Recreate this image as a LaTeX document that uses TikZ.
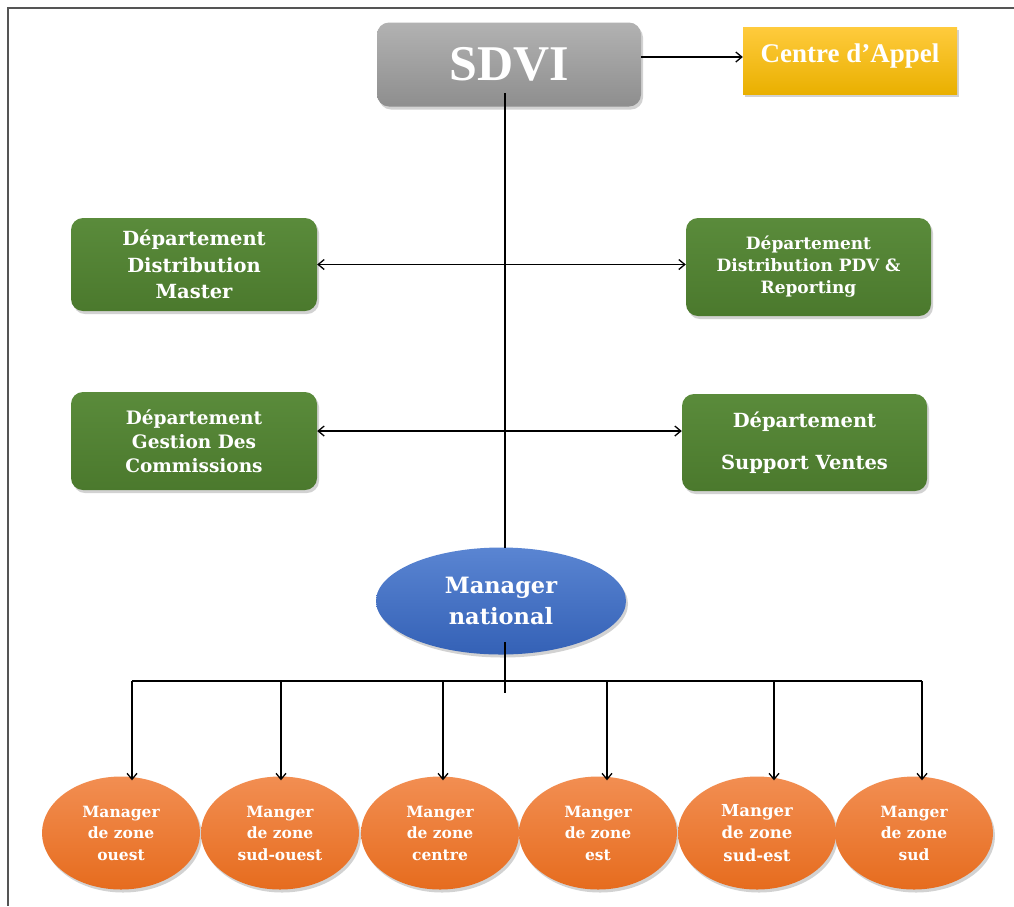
\documentclass[tikz,border=0pt]{standalone}
\usepackage{fontspec}
\setmainfont{DejaVu Serif}
\newfontfamily\headfont{Liberation Serif}
\usetikzlibrary{arrows.meta,shapes.geometric,shadows}

\definecolor{grayTop}{HTML}{B2B2B2}
\definecolor{grayBot}{HTML}{8E8E8E}
\definecolor{yelTop}{HTML}{FFCB3D}
\definecolor{yelBot}{HTML}{E9B000}
\definecolor{grnTop}{HTML}{5A8B3B}
\definecolor{grnBot}{HTML}{4B792D}
\definecolor{bluTop}{HTML}{5A85D2}
\definecolor{bluBot}{HTML}{3461B6}
\definecolor{orgTop}{HTML}{F28E52}
\definecolor{orgBot}{HTML}{E66C1E}
\definecolor{frameCol}{HTML}{555555}

\tikzset{
  shadowed/.style={drop shadow={opacity=0.35,shadow xshift=2pt,shadow yshift=-3pt}},
  graybox/.style={rectangle,rounded corners=12pt,top color=grayTop,bottom color=grayBot,
    shadowed,text=white,font=\headfont\bfseries\fontsize{50}{56}\selectfont,
    minimum width=264pt,minimum height=84pt,inner sep=0pt},
  yellowbox/.style={rectangle,top color=yelTop,bottom color=yelBot,shadowed,text=white,
    font=\headfont\bfseries\fontsize{27}{30}\selectfont,text depth=14pt,
    minimum width=214pt,minimum height=67pt,inner sep=0pt},
  deptbox/.style={rectangle,rounded corners=12pt,top color=grnTop,bottom color=grnBot,
    shadowed,text=white,align=center,inner sep=0pt},
  natnode/.style={ellipse,top color=bluTop,bottom color=bluBot,shadowed,text=white,align=center,
    font=\bfseries\fontsize{22.5}{31}\selectfont,minimum width=250pt,minimum height=107pt,inner sep=0pt},
  zonenode/.style={ellipse,top color=orgTop,bottom color=orgBot,shadowed,text=white,align=center,
    font=\bfseries\fontsize{15.5}{21.5}\selectfont,minimum width=158pt,minimum height=113pt,inner sep=0pt},
  link/.style={line width=1.3pt,draw=black},
  arrowlink/.style={link,-{Straight Barb[length=6pt,width=10pt]}},
  twoway/.style={link,{Straight Barb[length=6pt,width=10pt]}-{Straight Barb[length=6pt,width=10pt]}},
}

\begin{document}
\begin{tikzpicture}[x=1pt,y=-1pt]
\useasboundingbox (0,0) rectangle (1014,906);
\fill[white] (0,0) rectangle (1014,906);
% outer frame
\draw[frameCol,line width=1.3pt] (1014,8) -- (8,8) -- (8,906);

% head and call centre
\node[graybox] (sdvi) at (509,64.5) {SDVI};
\node[yellowbox] (centre) at (850,60.5) {Centre d’Appel};

% departments
\node[deptbox,minimum width=246pt,minimum height=93pt,font=\bfseries\fontsize{19.5}{26.5}\selectfont]
  (ddm) at (194,264.5) {Département\\Distribution\\Master};
\node[deptbox,minimum width=245pt,minimum height=98pt,font=\bfseries\fontsize{17}{22}\selectfont]
  (ddpr) at (808.5,267) {Département\\Distribution PDV \&\\Reporting};
\node[deptbox,minimum width=246pt,minimum height=98pt,font=\bfseries\fontsize{18.5}{24}\selectfont]
  (dgc) at (194,441) {Département\\Gestion Des\\Commissions};
\node[deptbox,minimum width=245pt,minimum height=97pt,font=\bfseries\fontsize{19.5}{42}\selectfont]
  (dsv) at (804.5,442.5) {Département\\Support Ventes};

% national manager
\node[natnode] (mn) at (501,601) {Manager\\national};

% zone managers
\node[zonenode] (z1) at (121,833) {Manager\\de zone\\ouest};
\node[zonenode] (z2) at (280,833) {Manger\\de zone\\sud-ouest};
\node[zonenode] (z3) at (440,833) {Manger\\de zone\\centre};
\node[zonenode] (z4) at (598,833) {Manger\\de zone\\est};
\node[zonenode,font=\bfseries\fontsize{16.5}{22.5}\selectfont] (z5) at (757,833) {Manger\\de zone\\sud-est};
\node[zonenode] (z6) at (914,833) {Manger\\de zone\\sud};

% trunk from the head down to the national manager
\coordinate (trunkTop) at (505,93);
\coordinate (trunkBot) at (505,548);
\draw[link] (trunkTop) -- (trunkBot);

% call centre link
\draw[arrowlink] ([yshift=3.5pt]centre.west -| sdvi.east) -- ([yshift=3.5pt]centre.west);

% department links
\draw[twoway] (ddm.east) -- (ddm.east -| ddpr.west);
\draw[twoway] ([yshift=10pt]dgc.east) -- ([yshift=10pt]dgc.east -| dsv.west);

% distribution bus to the zones
\coordinate (mnIn) at (505,642);
\coordinate (mnOut) at (505,693);
\draw[link] (mnIn) -- (mnOut);
\coordinate (b1) at (132,681);
\coordinate (b2) at (281,681);
\coordinate (b3) at (443,681);
\coordinate (b4) at (607,681);
\coordinate (b5) at (774,681);
\coordinate (b6) at (922,681);
\draw[link] (b1) -- (b6);
\foreach \i in {1,...,6}{
  \draw[arrowlink] (b\i) -- ([yshift=-4pt]z\i.north -| b\i);
}
\end{tikzpicture}
\end{document}
